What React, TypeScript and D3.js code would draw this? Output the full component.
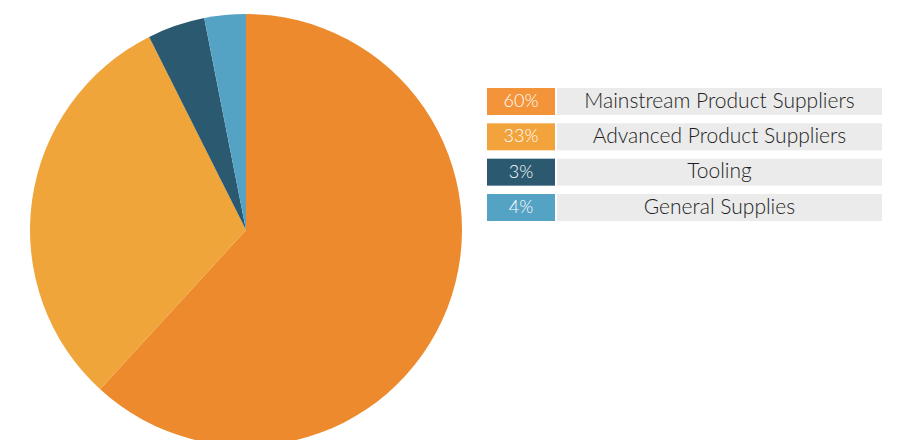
import React from "react";
import * as d3 from "d3";

const categories = [
  "Mainstream Product Suppliers",
  "Advanced Product Suppliers",
  "Tooling",
  "General Supplies",
];
const sliceValues = [61.8, 30.8, 4.3, 3.1];
// percentage labels as printed in the legend
const percentLabels = ["60%", "33%", "3%", "4%"];
const sliceColors = ["#EE8A2E", "#F0A53A", "#2B5A70", "#55A3C4"];
const legendColors = ["#F3943A", "#F3A33B", "#2B5A70", "#55A3C4"];

const W = 908;
const H = 440;

export default function App() {
  const cx = 246;
  const cy = 230;
  const r = 216;
  const pie = d3
    .pie<number>()
    .sort(null)
    .value((d) => d)
    .startAngle(0)
    .endAngle(2 * Math.PI);
  const arcs = pie(sliceValues);
  const arcGen = d3.arc<d3.PieArcDatum<number>>().innerRadius(0).outerRadius(r);

  const y = d3.scalePoint<string>().domain(categories).range([88, 194]);
  const font = "Lato, 'Open Sans', sans-serif";
  const h = 27;

  return (
    <svg
      width={W}
      height={H}
      style={{ position: "absolute", left: 0, top: 0, display: "block" }}
    >
      <rect width={W} height={H} fill="#ffffff" />
      <g transform={`translate(${cx},${cy})`}>
        {arcs.map((a, i) => (
          <path key={i} d={arcGen(a) || ""} fill={sliceColors[i]} />
        ))}
      </g>
      {categories.map((c, i) => {
        const top = y(c) as number;
        return (
          <g key={c}>
            <rect x={487} y={top} width={68} height={h} fill={legendColors[i]} />
            <rect x={557} y={top} width={325} height={h} fill="#EBEBEB" />
            <text
              x={521}
              y={top + h / 2 + 1}
              textAnchor="middle"
              dominantBaseline="middle"
              fill="#ffffff"
              fontFamily={font}
              fontWeight={300}
              fontSize={18}
            >
              {percentLabels[i]}
            </text>
            <text
              x={719.5}
              y={top + h / 2 + 1}
              textAnchor="middle"
              dominantBaseline="middle"
              fill="#1e1e1e"
              fontFamily={font}
              fontWeight={300}
              fontSize={21}
            >
              {c}
            </text>
          </g>
        );
      })}
    </svg>
  );
}
